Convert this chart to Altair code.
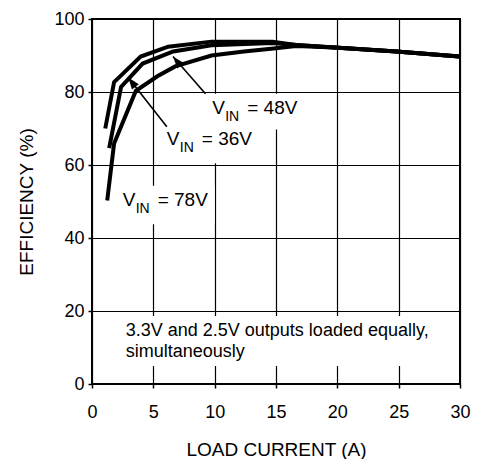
import altair as alt
import pandas as pd

# ---- data ----
load_a = [1.08, 1.80, 3.97, 6.21, 9.74, 14.71, 16.64, 19.77, 24.82, 29.95]
eff_a = [70.0, 82.7, 89.7, 92.4, 93.8, 93.8, 92.9, 92.2, 91.1, 89.7]
load_b = [1.40, 2.37, 4.13, 6.62, 9.74, 14.71, 16.64, 19.77, 24.82, 29.95]
eff_b = [64.6, 81.4, 87.8, 91.1, 92.8, 93.4, 92.9, 92.2, 91.1, 89.7]
load_c = [1.24, 1.80, 3.57, 5.33, 6.78, 9.74, 12.39, 14.80, 16.64, 19.77, 24.82, 29.95]
eff_c = [50.3, 65.9, 80.3, 84.3, 87.0, 90.0, 91.1, 91.9, 92.6, 92.2, 91.1, 89.7]

x_ticks = [0, 5, 10, 15, 20, 25, 30]
y_ticks = [0, 20, 40, 60, 80, 100]

label_volts = ["= 48V", "= 36V", "= 78V"]
label_x = [9.8, 6.1, 2.5]
label_y = [74.1, 65.4, 48.9]

arrow_x = [9.25, 6.1]
arrow_y = [79.5, 70.5]
arrow_tip_x = [6.6, 2.95]
arrow_tip_y = [89.7, 84.0]
arrow_angle = [320, 322.5]

note_lines = ["3.3V and 2.5V outputs loaded equally,", "simultaneously"]
note_x = [2.75, 2.75]
note_y = [13.2, 7.4]

box_x = [1.9, 9.0, 5.4, 2.1]
box_x2 = [29.4, 17.6, 13.3, 10.0]
box_y = [18.6, 79.5, 70.3, 54.3]
box_y2 = [4.9, 69.7, 60.5, 43.8]

FONT = "Liberation Sans"

curves = pd.concat([
    pd.DataFrame({"load": load_a, "eff": eff_a, "s": "VIN = 36V", "o": range(len(load_a))}),
    pd.DataFrame({"load": load_b, "eff": eff_b, "s": "VIN = 48V", "o": range(len(load_b))}),
    pd.DataFrame({"load": load_c, "eff": eff_c, "s": "VIN = 78V", "o": range(len(load_c))}),
])
labels = pd.DataFrame({"load": label_x, "eff": label_y, "t": label_volts})
arrows = pd.DataFrame({"load": arrow_x, "eff": arrow_y, "load2": arrow_tip_x,
                       "eff2": arrow_tip_y, "ang": arrow_angle})
notes = pd.DataFrame({"load": note_x, "eff": note_y, "t": note_lines})
boxes = pd.DataFrame({"load": box_x, "load2": box_x2, "eff": box_y, "eff2": box_y2})

XT = "LOAD CURRENT (A)"
YT = "EFFICIENCY (%)"

xaxis = alt.Axis(values=x_ticks, grid=True, gridColor="#000", gridWidth=1.2,
                 domain=False, ticks=True, tickSize=4, tickColor="#000", tickWidth=1.5,
                 labelFont=FONT, labelFontSize=18, labelColor="#000", labelPadding=15.8,
                 labelFlush=False, labelOverlap=False, title=XT, titleFont=FONT,
                 titleFontSize=19, titleFontWeight="normal", titleColor="#000",
                 titleY=71, titleBaseline="alphabetic")
yaxis = alt.Axis(values=y_ticks, grid=True, gridColor="#000", gridWidth=1.2,
                 domain=False, ticks=True, tickSize=4, tickColor="#000", tickWidth=1.5,
                 labelFont=FONT, labelFontSize=18, labelColor="#000", labelPadding=4,
                 labelFlush=False, labelOverlap=False, title=YT, titleFont=FONT,
                 titleFontSize=19, titleFontWeight="normal", titleColor="#000",
                 titleX=-66, titleY=182.5, titleAngle=270, titleBaseline="middle")

xs = alt.Scale(domain=[0, 30], nice=False, zero=False)
ys = alt.Scale(domain=[0, 100], nice=False, zero=False)


def X(f="load"):
    return alt.X(f"{f}:Q", scale=xs, axis=xaxis, title=XT)


def Y(f="eff"):
    return alt.Y(f"{f}:Q", scale=ys, axis=yaxis, title=YT)


box_layer = alt.Chart(boxes).mark_rect(fill="white", stroke=None).encode(
    x=X(), x2=alt.X2("load2:Q"), y=Y(), y2=alt.Y2("eff2:Q"))

line_layer = alt.Chart(curves).mark_line(color="black", strokeWidth=4, strokeCap="butt",
                                         strokeJoin="miter").encode(
    x=X(), y=Y(), detail="s:N", order="o:Q")

arrow_lines = alt.Chart(arrows).mark_rule(color="black", strokeWidth=1.6).encode(
    x=X(), y=Y(), x2=alt.X2("load2:Q"), y2=alt.Y2("eff2:Q"))

arrow_heads = alt.Chart(arrows).mark_point(shape="M0,0L-0.36,1L0.36,1Z", filled=True,
                                          fill="black", stroke=None, opacity=1,
                                          size=560).encode(
    x=X("load2"), y=Y("eff2"), angle=alt.Angle("ang:Q", scale=None))

v_text = alt.Chart(labels).mark_text(text="V", align="left", baseline="alphabetic",
                                     font=FONT, fontSize=19, color="black").encode(x=X(), y=Y())
in_text = alt.Chart(labels).mark_text(text="IN", align="left", baseline="alphabetic",
                                      font=FONT, fontSize=14, color="black",
                                      dx=13, dy=7).encode(x=X(), y=Y())
eq_text = alt.Chart(labels).mark_text(align="left", baseline="alphabetic",
                                      font=FONT, fontSize=19, color="black",
                                      dx=35).encode(x=X(), y=Y(), text="t:N")

note_text = alt.Chart(notes).mark_text(align="left", baseline="alphabetic", font=FONT,
                                       fontSize=18, color="black").encode(
    x=X(), y=Y(), text="t:N")

chart = alt.layer(box_layer, line_layer, arrow_lines, arrow_heads, v_text, in_text,
                  eq_text, note_text).properties(
    width=368, height=365,
    autosize=alt.AutoSizeParams(type="none"),
    padding={"left": 84, "top": 11, "right": 11, "bottom": 75},
    background="white",
).configure_view(stroke="black", strokeWidth=2)

chart.save("out.html", embed_options={"renderer": "svg", "actions": False})
